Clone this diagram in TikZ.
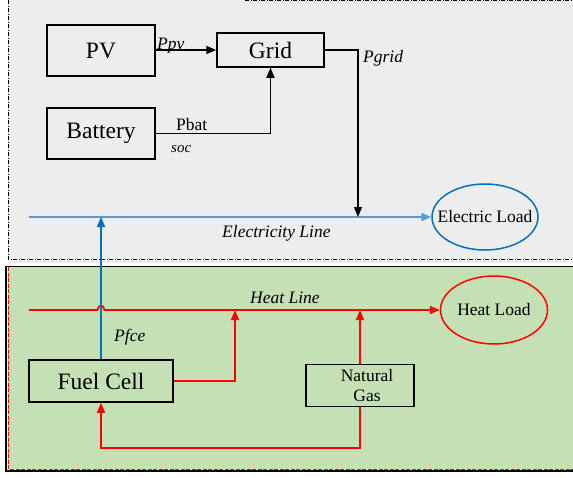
\documentclass[tikz,border=0pt]{standalone}
\usepackage{fontspec}
\setmainfont{Liberation Serif}
\usetikzlibrary{arrows.meta,shapes.geometric}
\definecolor{bggrey}{HTML}{EDEDED}
\definecolor{bggreen}{HTML}{C5E0B4}
\definecolor{eblue}{HTML}{0070C0}
\definecolor{lblue}{HTML}{5B9BD5}
\definecolor{hred}{HTML}{FF0000}
\tikzset{
  box/.style={draw=black, line width=1.5pt, inner sep=0pt, font=\fontsize{23.5}{27}\selectfont},
  loadnode/.style={ellipse, line width=1.5pt, inner sep=0pt, font=\fontsize{17.5}{20}\selectfont},
  lbl/.style={anchor=base west, inner sep=0pt, font=\fontsize{17.5}{20}\selectfont\itshape},
  lblup/.style={anchor=base west, inner sep=0pt, font=\fontsize{17.5}{20}\selectfont},
  tip/.style={-{Triangle[length=10pt,width=8pt]}},
  blk/.style={draw=black, line width=1.5pt},
  redl/.style={draw=hred, line width=1.8pt},
  dashdotb/.style={draw=black, line width=0.8pt, dash pattern=on 4pt off 1.5pt on 1pt off 1.5pt}
}
\begin{document}
\begin{tikzpicture}[x=1pt,y=-1pt]
\useasboundingbox (0,0) rectangle (573,477);
\fill[white] (0,0) rectangle (573,477);
% top region
\fill[bggrey] (8,0) rectangle (575,259);
\draw[dashdotb] (8,0) -- (8,259) -- (575,259);
\draw[dashdotb] (245,0.6) -- (575,0.6);
% bottom region
\fill[bggreen] (8,267) rectangle (575,469);
\draw[black, line width=1pt] (6,266.5) -- (575,266.5);
\draw[black, line width=2pt] (6,266) -- (6,472);
\draw[black, line width=2.5pt] (5,471) -- (575,471);
\draw[hred, line width=1pt, dash pattern=on 4pt off 1.5pt] (8.5,267) -- (8.5,469) -- (575,469);

% nodes
\node[box, minimum width=108pt, minimum height=51pt] (pv) at (101,50.5) {PV};
\node[box, minimum width=107pt, minimum height=34pt] (grid) at (270.5,50) {Grid};
\node[box, minimum width=108pt, minimum height=51pt] (bat) at (101,133.5) {Battery};
\node[loadnode, draw=eblue, fill=bggrey, inner xsep=-11pt, minimum width=106pt, minimum height=66pt] (eload) at (485,217) {Electric Load};
\node[loadnode, draw=hred, fill=bggreen, inner xsep=-2pt, minimum width=107pt, minimum height=68pt] (hload) at (494,310) {Heat Load};
\node[box, minimum width=144pt, minimum height=42pt] (fc) at (101,381) {Fuel Cell};
\node[box, minimum width=108pt, minimum height=42pt, align=center, font=\fontsize{17.5}{20}\selectfont] (ng) at (360,385.5) {\hspace*{14pt}Natural\\\hspace*{14pt}Gas};

% coordinates
\coordinate (eStart) at (29,217);
\coordinate (hStart) at (29,310);
\coordinate (gridDrop) at (358,217);
\coordinate (fcUp) at (101,217);
\coordinate (fcHeat) at (235,310);
\coordinate (ngHeat) at (360,310);
\coordinate (ngLow) at (360,448);
\coordinate (hopA) at (97.5,310);
\coordinate (hopB) at (104.5,310);

% electricity line
\draw[lblue, line width=1.5pt, tip] (eStart) -- (eload.west);
% heat line with hop
\draw[redl, tip] (hStart) -- (hopA) .. controls (98.5,304) and (103.5,304) .. (hopB) -- (hload.west);

% connectors
\draw[blk, tip] (pv.east |- 0,50) -- (grid.west);
\draw[blk, tip] (bat.east) -| (grid.south);
\draw[blk, tip] (grid.east) -| (gridDrop);
\draw[eblue, line width=1.8pt, tip] (fc.north) -- (fcUp);
\draw[redl, tip] (fc.east) -| (fcHeat);
\draw[redl, tip] (ng.north) -- (ngHeat);
\draw[redl, tip] (ng.south) -- (ngLow) -| (fc.south);

% labels
\node[lbl] (lppv) at (157,49) {Ppv};
\node[lblup] (lpbat) at (176,130) {Pbat};
\node[lbl, font=\fontsize{15}{18}\selectfont\itshape] (lsoc) at (171,152) {soc};
\node[lbl] (lpgrid) at (363,62) {Pgrid};
\node[lbl] (lelec) at (222,237) {Electricity Line};
\node[lbl] (lheat) at (250,303) {Heat Line};
\node[lbl] (lpfce) at (114,341) {Pfce};
\end{tikzpicture}
\end{document}
